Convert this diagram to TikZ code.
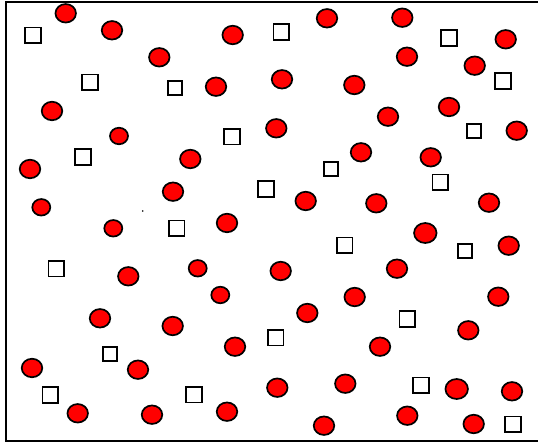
\documentclass[tikz,border=0pt]{standalone}
\usetikzlibrary{shapes.geometric}
\begin{document}
\begin{tikzpicture}[x=1pt,y=-1pt,
  ball/.style={ellipse,draw=black,fill=red,line width=1.7pt,inner sep=0pt,minimum width=20.5pt,minimum height=18.5pt},
  smallball/.style={ball,minimum width=18pt,minimum height=16.5pt},
  bigball/.style={ball,minimum width=22.5pt,minimum height=20pt},
  box/.style={rectangle,draw=black,fill=white,line width=1.7pt,inner sep=0pt,minimum size=15.5pt},
  smallbox/.style={box,minimum size=14pt},
  frame/.style={draw=black,line width=2pt}]
\useasboundingbox (0,0) rectangle (538,443);
\clip (0,0) rectangle (538,443);
\draw[frame] (6,2) rectangle (548,441);
% red circles
\foreach \x/\y [count=\i] in {65.7/13.3,112/30.3,232.7/35,159.3/57.3,216/86.7,52/111,30/169,190.3/159,173/191.7,227/223,276.3/128.3,
  327/18.3,402.3/17.7,505.7/39.3,407/56.7,474.7/65.7,282/79.3,354.3/85,449/107,388/116.7,516.7/130.7,361/152.3,430.7/157.3,305.7/201,376.3/203.3,489/202.7,
  128.3/276.3,100/318.3,172.7/326,235/346.7,32/368,138/369.7,77.7/413.3,152/414.7,227/411.7,
  508.7/245.7,280.7/271,397/268.7,354.7/297,498.3/296.7,307.3/313,468.3/330.3,380/346.7,277.3/387.7,345.3/383.7,512/391.3,324/425.7,407.3/415.7,473.7/424}
  \node[ball] (c\i) at (\x,\y) {};
\foreach \x/\y [count=\i] in {119/136,41.3/207.3,113.3/228.3,197.7/268.3,220.3/295}
  \node[smallball] (cs\i) at (\x,\y) {};
\foreach \x/\y [count=\i] in {425.3/233,456.7/389}
  \node[bigball] (cb\i) at (\x,\y) {};
% white squares
\foreach \x/\y [count=\i] in {33/35.3,90/82.3,232/136.7,83/157,266/189,281.3/32,449/38,503/81,440.3/182.3,
  56.3/268.7,50.3/395,194/394.7,275.7/337.7,344.7/245.3,407.3/319,421/385.3,513/424.3,176.7/228.3}
  \node[box] (s\i) at (\x,\y) {};
\foreach \x/\y [count=\i] in {174.7/88.3,473.7/130.7,331.3/169.3,110/354,465/251.3}
  \node[smallbox] (ss\i) at (\x,\y) {};
% tiny dot
\node[circle,fill=black,inner sep=0pt,minimum size=1.8pt] (dot) at (142.7,211) {};
\end{tikzpicture}
\end{document}
